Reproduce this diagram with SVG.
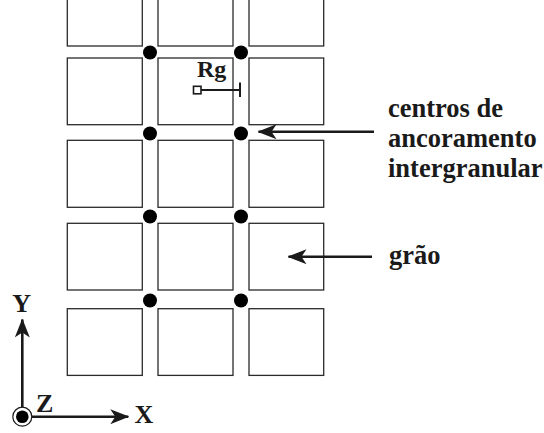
<svg xmlns="http://www.w3.org/2000/svg" width="544" height="433" viewBox="0 0 544 433">
<style>
.g{fill:#fff;stroke:#2a2a2a;stroke-width:1.3}
.d{fill:#000}
.t{font-family:"Liberation Serif","Times New Roman",serif;font-weight:bold;fill:#1a1a1a}
.ln{stroke:#1a1a1a;stroke-width:2.6;fill:none}
</style>
<defs>
<marker id="ah" viewBox="0 0 19 15" refX="18" refY="7.5" markerWidth="19" markerHeight="15" markerUnits="userSpaceOnUse" orient="auto">
<path d="M0,0 L19,7.5 L0,15 L5,7.5 Z" fill="#1a1a1a"/>
</marker>
</defs>
<g id="grains">
<rect class="g" x="67.3" y="-10" width="75" height="56"/>
<rect class="g" x="158" y="-10" width="75" height="56"/>
<rect class="g" x="249" y="-10" width="74.7" height="56"/>
<rect class="g" x="67.3" y="58" width="75" height="66.7"/>
<rect class="g" x="158" y="58" width="75" height="66.7"/>
<rect class="g" x="249" y="58" width="74.7" height="66.7"/>
<rect class="g" x="67.3" y="140.3" width="75" height="67"/>
<rect class="g" x="158" y="140.3" width="75" height="67"/>
<rect class="g" x="249" y="140.3" width="74.7" height="67"/>
<rect class="g" x="67.3" y="223.3" width="75" height="66.7"/>
<rect class="g" x="158" y="223.3" width="75" height="66.7"/>
<rect class="g" x="249" y="223.3" width="74.7" height="66.7"/>
<rect class="g" x="67.3" y="308.7" width="75" height="66.7"/>
<rect class="g" x="158" y="308.7" width="75" height="66.7"/>
<rect class="g" x="249" y="308.7" width="74.7" height="66.7"/>
</g>
<g id="pins">
<circle class="d" cx="150" cy="52.5" r="7"/>
<circle class="d" cx="241" cy="52.5" r="7"/>
<circle class="d" cx="150" cy="133.5" r="7"/>
<circle class="d" cx="241" cy="133.5" r="7"/>
<circle class="d" cx="150" cy="216.5" r="7"/>
<circle class="d" cx="241" cy="216.5" r="7"/>
<circle class="d" cx="150" cy="300.5" r="7"/>
<circle class="d" cx="241" cy="300.5" r="7"/>
</g>
<g id="rg">
<text class="t" x="211.7" y="76.5" font-size="24" text-anchor="middle">Rg</text>
<rect x="193.5" y="86.3" width="7.5" height="7.5" fill="#fff" stroke="#1a1a1a" stroke-width="1.6"/>
<line x1="201" y1="90" x2="240" y2="90" stroke="#1a1a1a" stroke-width="2"/>
<line x1="240" y1="82.5" x2="240" y2="97" stroke="#1a1a1a" stroke-width="2"/>
</g>
<g id="connectors">
<line class="ln" x1="374" y1="131.7" x2="258.5" y2="131.7" marker-end="url(#ah)"/>
<line class="ln" x1="372" y1="256.7" x2="288.5" y2="256.7" marker-end="url(#ah)"/>
</g>
<g id="label-pinning">
<text class="t" x="388" y="117" font-size="26.5">centros de</text>
<text class="t" x="388" y="147" font-size="26.5">ancoramento</text>
<text class="t" x="388" y="177" font-size="26.5">intergranular</text>
</g>
<g id="label-grain">
<text class="t" x="389" y="264" font-size="26.5">grão</text>
</g>
<g id="axes">
<line class="ln" x1="22.3" y1="416.7" x2="22.3" y2="319.5" marker-end="url(#ah)"/>
<line class="ln" x1="22.3" y1="416.7" x2="128.3" y2="416.7" marker-end="url(#ah)"/>
<circle cx="22.3" cy="416.7" r="9.5" fill="#fff" stroke="#1a1a1a" stroke-width="1.2"/>
<circle cx="22.3" cy="416.7" r="6.3" fill="#000"/>
<text class="t" x="21.7" y="311.7" font-size="26" text-anchor="middle">Y</text>
<text class="t" x="36" y="411.7" font-size="26">Z</text>
<text class="t" x="134.5" y="423.3" font-size="26">X</text>
</g>
</svg>
